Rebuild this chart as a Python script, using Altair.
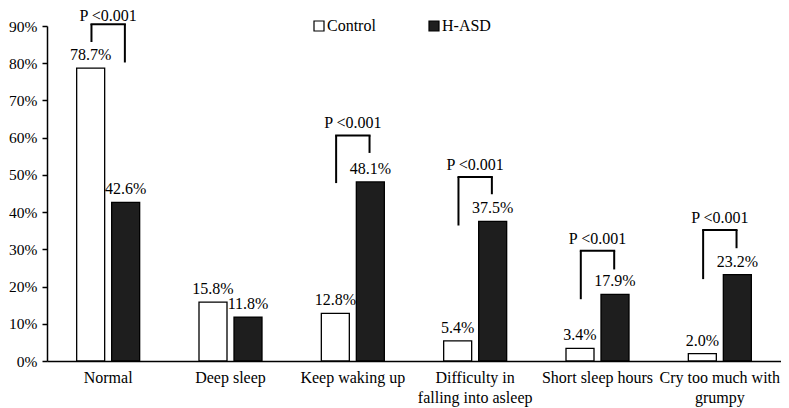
import altair as alt
import pandas as pd

# ---------------- data ----------------
categories = ["Normal", "Deep sleep", "Keep waking up",
              "Difficulty in|falling into asleep", "Short sleep hours",
              "Cry too much with|grumpy"]
series = ["Control", "H-ASD"]
control = [78.7, 15.8, 12.8, 5.4, 3.4, 2.0]
hasd = [42.6, 11.8, 48.1, 37.5, 17.9, 23.2]

p_categories = ["Normal", "Keep waking up", "Difficulty in|falling into asleep",
                "Short sleep hours", "Cry too much with|grumpy"]
p_labels = ["P <0.001", "P <0.001", "P <0.001", "P <0.001", "P <0.001"]
bracket_top = [90.5, 60.6, 49.4, 29.6, 35.2]
bracket_left_end = [85.7, 47.8, 36.4, 16.6, 22.0]
bracket_right_end = [80.2, 55.9, 44.8, 24.6, 30.3]
p_label_y = [92.6, 64.0, 52.7, 32.7, 38.5]

y_ticks = [0, 10, 20, 30, 40, 50, 60, 70, 80, 90]

bars_df = pd.DataFrame({
    "category": categories * 2,
    "series": [series[0]] * len(categories) + [series[1]] * len(categories),
    "value": control + hasd,
})
bars_df["label"] = bars_df["value"].map(lambda v: f"{v:.1f}%")

br_df = pd.DataFrame({
    "category": p_categories,
    "top": bracket_top,
    "left_end": bracket_left_end,
    "right_end": bracket_right_end,
    "ptext_y": p_label_y,
    "ptext": p_labels,
})

FONT = "Liberation Serif, Times New Roman, Times, serif"
FS = 16

x_enc = alt.X(
    "category:N", sort=categories,
    scale=alt.Scale(paddingInner=0, paddingOuter=0),
    axis=alt.Axis(title=None, labelExpr="split(datum.label, '|')", labelAngle=0,
                  ticks=False, labelPadding=8, domainColor="black", domainWidth=1.5,
                  labelFont=FONT, labelFontSize=FS, labelColor="black",
                  labelLineHeight=20, labelBaseline="top"),
)

y_axis = alt.Axis(title=None, values=y_ticks, labelExpr="datum.value + '%'",
                  tickSize=5, tickColor="black", tickWidth=1.5,
                  domainColor="black", domainWidth=1.5, grid=False,
                  labelFont=FONT, labelFontSize=15.5, labelColor="black",
                  labelPadding=5)
y_scale = alt.Scale(domain=[0, 90], nice=False, zero=True)

xoff = alt.XOffset("series:N", sort=series,
                   scale=alt.Scale(paddingInner=0.2, paddingOuter=0.8476))

bars = alt.Chart(bars_df).mark_bar(stroke="black", strokeWidth=1.3, clip=False).encode(
    x=x_enc,
    xOffset=xoff,
    y=alt.Y("value:Q", scale=y_scale, axis=y_axis),
    color=alt.Color(
        "series:N", sort=series,
        scale=alt.Scale(domain=series, range=["#ffffff", "#1e1e1e"]),
        legend=alt.Legend(title=None, orient="none", legendX=264, legendY=-8,
                          direction="horizontal", symbolType="square",
                          symbolSize=100, symbolStrokeColor="black",
                          symbolStrokeWidth=1.2, labelFont=FONT,
                          labelFontSize=FS, labelColor="black",
                          columnPadding=50, labelOffset=0, padding=0),
    ),
)

labels = alt.Chart(bars_df).mark_text(
    font=FONT, fontSize=FS, color="black", baseline="middle", dy=-13, clip=False
).encode(
    x=x_enc,
    xOffset=xoff,
    y=alt.Y("value:Q", scale=y_scale, axis=y_axis),
    text="label:N",
)

left_rule = alt.Chart(br_df).mark_rule(color="black", strokeWidth=2, xOffset=-16.7,
                                       clip=False).encode(
    x=x_enc,
    y=alt.Y("left_end:Q", scale=y_scale, axis=y_axis),
    y2="top:Q",
)
right_rule = alt.Chart(br_df).mark_rule(color="black", strokeWidth=2, xOffset=16.7,
                                        clip=False).encode(
    x=x_enc,
    y=alt.Y("right_end:Q", scale=y_scale, axis=y_axis),
    y2="top:Q",
)
top_rule = alt.Chart(br_df).mark_tick(color="black", thickness=2, size=35.4,
                                      orient="horizontal", opacity=1,
                                      clip=False).encode(
    x=x_enc,
    y=alt.Y("top:Q", scale=y_scale, axis=y_axis),
)
ptext = alt.Chart(br_df).mark_text(
    font=FONT, fontSize=FS, color="black", baseline="middle", clip=False
).encode(
    x=x_enc,
    y=alt.Y("ptext_y:Q", scale=y_scale, axis=y_axis),
    text="ptext:N",
)

chart = alt.layer(bars, labels, left_rule, right_rule, top_rule, ptext).properties(
    width=734, height=335,
    autosize=alt.AutoSizeParams(type="none"),
    padding={"left": 39, "top": 18, "right": 0, "bottom": 47},
).configure_view(stroke=None)

chart.save("out.html", embed_options={"renderer": "svg", "actions": False})
